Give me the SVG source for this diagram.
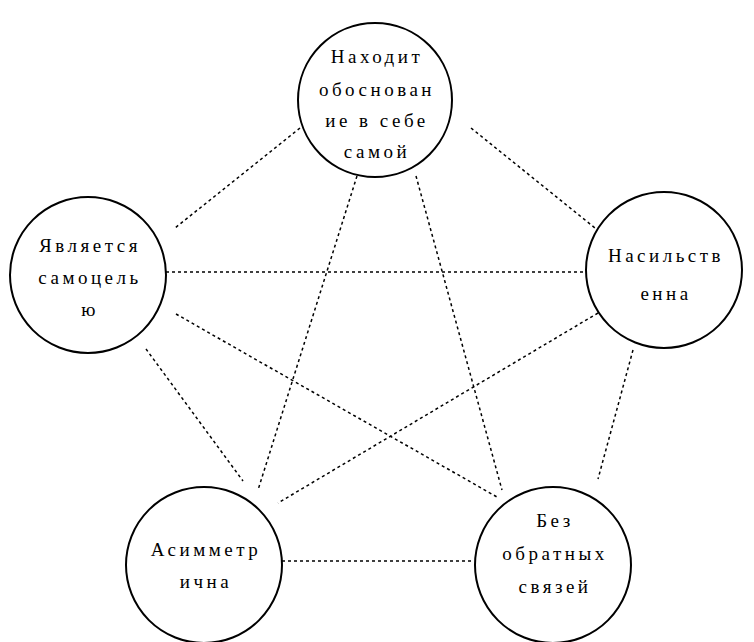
<svg xmlns="http://www.w3.org/2000/svg" width="754" height="642" viewBox="0 0 754 642">
<style>
.n circle{fill:#fff;stroke:#000;stroke-width:2}
.n text{font-family:"Liberation Serif","DejaVu Serif","Times New Roman",Times,serif;font-size:19px;text-anchor:middle;fill:#000;letter-spacing:3.5px}
.e line{stroke:#000;stroke-width:1.5;stroke-dasharray:3 3}
</style>
<rect width="754" height="642" fill="#fff"/>
<g id="connectors" class="e">
<line x1="300" y1="128" x2="175" y2="228"/>
<line x1="471" y1="128" x2="595" y2="228"/>
<line x1="357" y1="176" x2="258" y2="490"/>
<line x1="416" y1="176" x2="502" y2="490"/>
<line x1="166" y1="272" x2="586" y2="272"/>
<line x1="176" y1="314" x2="497" y2="497"/>
<line x1="146" y1="349" x2="243" y2="481"/>
<line x1="598" y1="313" x2="278" y2="503"/>
<line x1="633" y1="350" x2="598" y2="479"/>
<line x1="282" y1="561" x2="474" y2="561"/>
</g>
<g id="node-top" class="n">
<circle cx="375" cy="100" r="77"/>
<text x="377" y="63">Находит</text>
<text x="377" y="96">обоснован</text>
<text x="377" y="127">ие в себе</text>
<text x="377" y="158">самой</text>
</g>
<g id="node-left" class="n">
<circle cx="88" cy="275" r="78"/>
<text x="90" y="252">Является</text>
<text x="90" y="284">самоцель</text>
<text x="90" y="316">ю</text>
</g>
<g id="node-right" class="n">
<circle cx="664" cy="270" r="78"/>
<text x="666" y="262">Насильств</text>
<text x="666" y="300">енна</text>
</g>
<g id="node-bl" class="n">
<circle cx="204" cy="565" r="78"/>
<text x="206" y="556">Асимметр</text>
<text x="206" y="588">ична</text>
</g>
<g id="node-br" class="n">
<circle cx="553" cy="565" r="78"/>
<text x="555" y="527">Без</text>
<text x="555" y="560">обратных</text>
<text x="555" y="593">связей</text>
</g>
</svg>
